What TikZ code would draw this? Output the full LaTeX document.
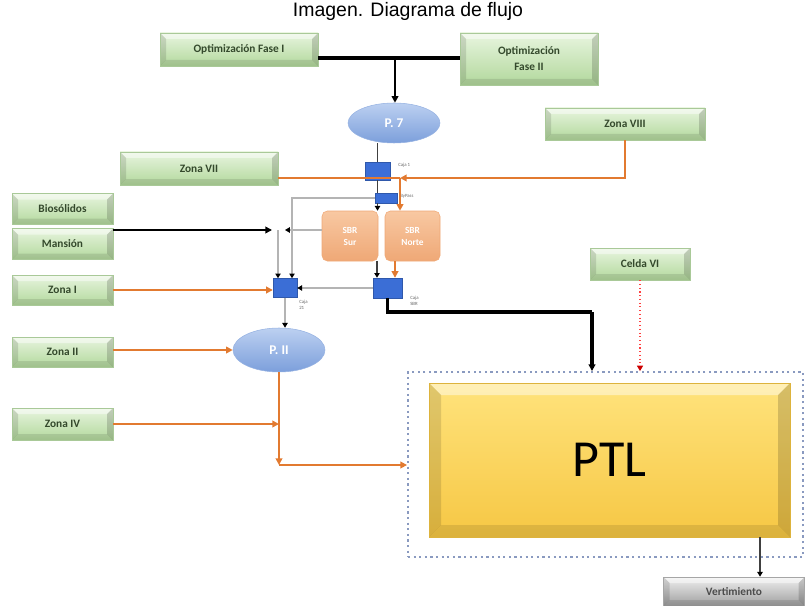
\documentclass[tikz,border=0pt]{standalone}
\usepackage{fontspec}
\setmainfont{Carlito}
\newfontfamily\titlefont{Liberation Sans}
\usetikzlibrary{shapes.geometric,arrows.meta,calc}
\definecolor{gtop}{HTML}{E8F5DF}
\definecolor{gbot}{HTML}{B2D89C}
\definecolor{gbor}{HTML}{A9C998}
\definecolor{gtxt}{HTML}{34492C}
\definecolor{orl}{HTML}{E27A30}
\definecolor{bluebox}{HTML}{3B6ED6}
\definecolor{eltop}{HTML}{BCD0F1}
\definecolor{elbot}{HTML}{7C9FDB}
\definecolor{sbrtop}{HTML}{F8C8A2}
\definecolor{sbrbot}{HTML}{EFA876}
\definecolor{ptltop}{HTML}{FFE37C}
\definecolor{ptlbot}{HTML}{F6C744}
\definecolor{dashc}{HTML}{8A9AC0}
\definecolor{grl}{HTML}{B4B4B4}
\definecolor{lbl}{HTML}{666666}
\begin{document}
\begin{tikzpicture}[x=0.75pt,y=-0.75pt]
\tikzset{
  sz/.style 2 args={minimum width=#1*0.75pt, minimum height=#2*0.75pt},
  bev/.style={path picture={
    \coordinate (@nw) at (path picture bounding box.north west);
    \coordinate (@se) at (path picture bounding box.south east);
    \coordinate (@ne) at (@se |- @nw);
    \coordinate (@sw) at (@nw |- @se);
    \fill[white,opacity=0.45] (@nw) -- (@ne) -- ($(@ne)+(-#1,#1)$) -- ($(@nw)+(#1,#1)$) -- cycle;
    \fill[black,opacity=0.10] (@sw) -- (@se) -- ($(@se)+(-#1,-#1)$) -- ($(@sw)+(#1,-#1)$) -- cycle;
    \fill[black,opacity=0.12] (@nw) -- ($(@nw)+(#1,#1)$) -- ($(@sw)+(#1,-#1)$) -- (@sw) -- cycle;
    \fill[black,opacity=0.16] (@ne) -- ($(@ne)+(-#1,#1)$) -- ($(@se)+(-#1,-#1)$) -- (@se) -- cycle;
  }},
  gbox/.style={draw=gbor, line width=0.4pt, top color=gtop, bottom color=gbot,
    text=gtxt, font=\fontsize{8.5}{10}\selectfont\bfseries, align=center, inner sep=0pt, bev=6},
  ell/.style={ellipse, draw=elbot!80!white, line width=0.4pt, top color=eltop, bottom color=elbot,
    text=white, font=\fontsize{10}{11}\selectfont\bfseries, inner sep=0pt},
  sbr/.style={rounded corners=4pt, top color=sbrtop, bottom color=sbrbot, draw=sbrbot,
    text=white, font=\fontsize{7}{9}\selectfont\bfseries, align=center, inner sep=0pt},
  bluesq/.style={fill=bluebox, draw=bluebox!80!black, line width=0.3pt, inner sep=0pt},
  tiny/.style={font=\fontsize{3.6}{4.2}\selectfont, text=lbl, align=left, inner sep=0pt, anchor=north west},
  blk/.style={draw=black, line width=2.5pt},
  orn/.style={draw=orl, line width=2.1pt},
  gry/.style={draw=grl, line width=0.9pt},
  dk/.style={draw=black!75, line width=0.9pt},
  tipb/.style={-{Triangle[length=5pt,width=5pt,black]}},
  tipo/.style={-{Triangle[length=5pt,width=5pt,orl]}},
  tips/.style={-{Triangle[length=3.6pt,width=4pt,black]}},
}
\useasboundingbox (0,0) rectangle (806,606);

\node[font=\titlefont\fontsize{14.6}{16}\selectfont] (title) at (408,11) {Imagen. Diagrama de flujo};

% containers
\node[sz={395}{185}, draw=dashc, line width=1.4pt, dash pattern=on 1.6pt off 2.6pt, inner sep=0pt] (dbox) at (605.5,464.5) {};
\node[sz={361}{154}, top color=ptltop, bottom color=ptlbot, draw=ptlbot!90!black, line width=0.4pt,
      bev=12, font=\fontsize{39}{40}\selectfont, inner sep=0pt] (ptl) at (609.5,460) {PTL};

% green boxes
\node[gbox, sz={158}{33}] (opt1) at (239,49.5) {Optimización Fase I};
\node[gbox, sz={138}{52}] (opt2) at (529,59) {Optimización\\[2pt]Fase II};
\node[gbox, sz={160}{32}] (z8) at (625,124) {Zona VIII};
\node[gbox, sz={158}{33}] (z7) at (199,168.5) {Zona VII};
\node[gbox, sz={101}{31}] (bio) at (62.5,209) {Biosólidos};
\node[gbox, sz={101}{31}] (man) at (62.5,244) {Mansión};
\node[gbox, sz={101}{30}] (z1) at (62.5,290) {Zona I};
\node[gbox, sz={101}{30}] (z2) at (62.5,352) {Zona II};
\node[gbox, sz={101}{32}] (z4) at (62.5,424) {Zona IV};
\node[gbox, sz={100}{32}] (celda) at (640,264) {Celda VI};
\node[sz={141}{29}, top color=black!6, bottom color=black!38, draw=black!35, line width=0.4pt,
      bev=6, text=black!70, font=\fontsize{8.5}{10}\selectfont\bfseries, inner sep=0pt] (vert) at (734,591.5) {Vertimiento};

% ellipses
\node[ell, sz={92}{40}] (p7) at (394,123) {P. 7};
\node[ell, sz={92}{44}] (p2) at (279,350) {P. II};

% SBR
\node[sbr, sz={56}{50}] (sur) at (350,236) {SBR\\Sur};
\node[sbr, sz={55}{50}] (norte) at (412.5,236) {SBR\\Norte};

% blue boxes
\node[bluesq, sz={25}{18}] (caja1) at (377.5,171) {};
\node[bluesq, sz={22}{10}] (bypass) at (386,198) {};
\node[bluesq, sz={24}{19}] (caja21) at (285,288) {};
\node[bluesq, sz={29}{20}] (cajasbr) at (387.5,288) {};

% tiny labels
\node[tiny] (l1) at (398,163) {Caja 1};
\node[tiny] (l2) at (400,194) {ByPass};
\node[tiny] (l3) at (299,300) {Caja\\21};
\node[tiny] (l4) at (410,296) {Caja\\SBR};

% junction coordinates
\coordinate (jtop) at (395,58);
\coordinate (jo) at (400,178);
\coordinate (jm) at (278,230);
\coordinate (jb) at (272,230);
\coordinate (jg) at (285,230);
\coordinate (c21b) at ($(caja21.north)+(7,0)$);
\coordinate (sx) at ($(cajasbr.north)+(-10.5,0)$);
\coordinate (nx) at ($(cajasbr.north)+(7.5,0)$);
\coordinate (jk) at (592,312);
\coordinate (jp) at (279,465);
\coordinate (jv) at (760,0);

% top
\draw[blk] (opt1.east |- jtop) -- (opt2.west |- jtop);
\draw[blk, line width=2pt, tipb] (jtop) -- (jtop |- p7.north);
\draw[dk] (caja1.north |- p7.south) -- (caja1.north);
\draw[dk] (caja1.south) -- (caja1.south |- bypass.north);
\draw[dk, tips] (caja1.south |- bypass.south) -- (caja1.south |- sur.north);

% orange zone VII / VIII
\draw[orn] (z7.east |- jo) -- (jo);
\draw[orn, tipo] (z8.south) |- (jo);
\draw[orn, line width=1.5pt, tipo] (jo) -- (jo |- norte.north);

% grey from bypass to caja 21
\draw[gry, tips] (bypass.west) -| (c21b);
% SBR Sur back to junction
\draw[gry, tips] (sur.west |- jg) -- (jg);
\draw[gry, tips] (jm) -- (jm |- caja21.north);
% Mansion black line
\draw[blk, line width=2pt, tipb] (man.east |- jb) -- (jb);

% zona I to caja 21
\draw[orn, tipo] (z1.east) -- (z1.east -| caja21.west);
% caja SBR to caja 21
\draw[gry, tips] (cajasbr.west) -- (caja21.east);
% SBR to caja SBR
\draw[dk, tips] (sx |- sur.south) -- (sx);
\draw[orn, line width=1.2pt, tipo] (nx |- norte.south) -- (nx);
% caja SBR to PTL
\draw[blk] (cajasbr.south) |- (jk);
\draw[blk, tipb] (jk) -- (jk |- dbox.north);

% caja 21 to P II
\draw[gry, tips] (caja21.south) -- (caja21.south |- p2.north);
% zona II to P II
\draw[orn, tipo] (z2.east |- p2.west) -- (p2.west);
% P II to PTL
\draw[orn, tipo] (p2.south) -- (jp);
\draw[orn, tipo] (jp) -- (jp -| dbox.west);
% zona IV
\draw[orn, tipo] (z4.east) -- (z4.east -| jp);

% celda VI
\draw[draw=red!75, line width=0.8pt, dotted, -{Triangle[length=4pt,width=4.5pt,red!80!black]}] (celda.south) -- (celda.south |- dbox.north);
% vertimiento
\draw[dk, tips] (jv |- ptl.south) -- (jv |- vert.north);
\end{tikzpicture}
\end{document}
